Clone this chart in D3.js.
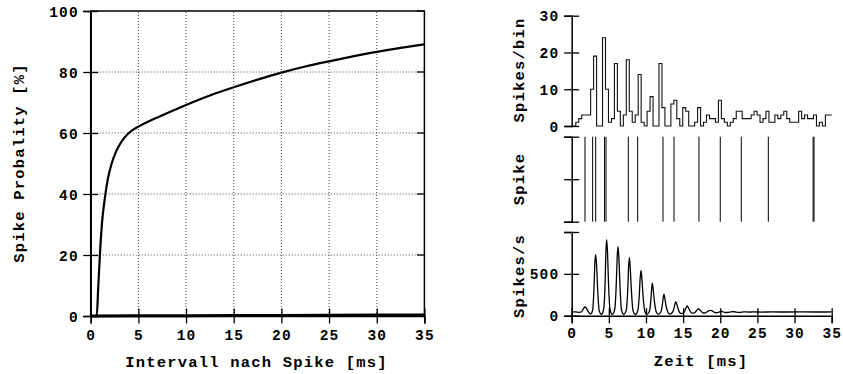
<!DOCTYPE html>
<html><head><meta charset="utf-8">
<script src="https://cdn.jsdelivr.net/npm/d3@7"></script>
<style>
body{margin:0;background:#fff;}
svg{display:block;}
text{font-family:"Liberation Mono","Courier New",monospace;font-weight:bold;fill:#000;}
</style></head><body>
<svg id="c" width="843" height="374"></svg>
<script>
// ---------- data ----------
// left panel: spike probability vs interval
const probX = [0, 0.63, 0.8, 1.0, 1.2, 1.5, 1.8, 2.2, 2.6, 3.0, 3.5, 4.0, 4.5, 5.0, 6.0, 7.0, 8.0, 10, 12.5, 15, 17.5, 20, 22.5, 25, 27.5, 30, 32.5, 35];
const probY = [0, 0, 10, 22, 31, 39, 45, 50, 53.5, 56, 58.3, 60, 61.2, 62.1, 63.7, 65.1, 66.5, 69.2, 72.3, 75.0, 77.5, 79.8, 81.8, 83.5, 85.1, 86.6, 87.9, 89.1];
const baseX = [0, 5, 10, 15, 20, 25, 30, 35];
const baseY = [0, 0.05, 0.1, 0.15, 0.2, 0.25, 0.3, 0.35];
const leftXTicks = [0, 5, 10, 15, 20, 25, 30, 35];
const leftYTicks = [0, 20, 40, 60, 80, 100];

// right top: histogram (spikes per 0.4 ms bin)
const binStart = 0.15;
const binWidth = 0.4;
const histValues = [0,1,2,3,3,3,10,19,0,0,
  24,10,1,2,17,4,0,3,18,4,
  1,3,14,1,0,4,8,0,0,17,
  5,0,0,6,7,2,0,5,4,0,
  0,1,5,0,1,3,2,2,1,7,
  2,1,0,1,2,4,4,2,2,2,
  3,4,3,1,2,4,1,1,3,2,
  3,4,2,1,1,1,4,2,3,2,
  2,3,0,1,0,3,3];
const histTicks = [0, 10, 20, 30];

// right middle: spike raster (ms)
const spikeTimes = [1.79, 2.82, 3.23, 4.42, 4.62, 7.62, 8.88, 12.29, 13.77, 17.13, 20.0, 22.83, 26.47, 32.5, 32.62];
const rasterTicks = [0, 1, 2];

// right bottom: firing rate (spikes/s)
const psthT = [0,0.5,1.0,1.3,1.6,1.8,2.0,2.3,2.5,2.8,3.0,3.1,3.23,3.35,3.5,3.7,4.0,4.3,4.5,4.6,4.71,4.82,4.95,5.15,5.45,5.8,6.0,6.12,6.23,6.35,6.5,6.7,7.0,7.35,7.55,7.66,7.76,7.88,8.05,8.25,8.55,8.9,9.1,9.22,9.33,9.45,9.62,9.85,10.1,10.45,10.65,10.76,10.85,10.96,11.15,11.4,11.65,12.0,12.2,12.32,12.42,12.53,12.72,13.0,13.25,13.6,13.8,13.92,14.0,14.1,14.3,14.55,14.8,15.15,15.35,15.48,15.56,15.65,15.85,16.1,16.4,16.7,16.9,17.09,17.25,17.45,17.7,18.0,18.3,18.5,18.7,18.9,19.2,19.5,19.8,20.1,20.3,20.6,21.0,21.4,21.7,22.1,22.6,23.2,23.8,24.5,25.5,27,29,31,33,35];
const psthV = [45,45,40,45,85,108,85,40,20,60,330,600,728,600,300,60,15,80,400,760,908,760,400,80,15,80,380,690,824,690,360,70,15,70,320,580,696,570,280,60,15,60,250,450,540,440,220,50,15,50,180,320,388,320,160,40,15,45,130,215,256,210,110,35,20,45,100,150,168,148,90,35,25,45,85,108,116,105,70,35,30,50,70,80,72,50,32,35,50,60,64,57,40,35,42,50,48,40,38,45,50,44,40,46,43,45,43,45,44,45,44,45];
const psthTicks = [0, 500, 1000];
const psthTickLabels = ["0", "500", ""];
const timeTicks = [0, 5, 10, 15, 20, 25, 30, 35];

// ---------- drawing ----------
const svg = d3.select("#c");
const TICK = 7.5;

function crossTicks(g, orient) {
  g.selectAll(".tick line").each(function() {
    const l = d3.select(this);
    if (orient === "left") l.attr("x1", TICK).attr("x2", -TICK);
    else l.attr("y1", -TICK).attr("y2", TICK);
  });
  g.selectAll(".tick line").attr("stroke", "#000").attr("stroke-width", 1.3);
  g.select(".domain").attr("stroke", "#000").attr("stroke-width", 1.5);
  g.selectAll("text").attr("font-size", 14.5).attr("letter-spacing", 1.1).attr("fill", "#000");
}

// ===== Left panel =====
const xL = d3.scaleLinear().domain([0, 35]).range([90.7, 424.4]);
const yL = d3.scaleLinear().domain([0, 100]).range([316, 11]);

// grid
const grid = svg.append("g");
grid.selectAll("line.gx").data(leftXTicks.filter(d => d > 0 && d < 35)).join("line")
  .attr("x1", d => xL(d)).attr("x2", d => xL(d)).attr("y1", yL(0)).attr("y2", yL(100))
  .attr("stroke", "#444").attr("stroke-width", 1).attr("stroke-dasharray", "1,2");
grid.selectAll("line.gy").data(leftYTicks.filter(d => d > 0 && d < 100)).join("line")
  .attr("x1", xL(0)).attr("x2", xL(35)).attr("y1", d => yL(d)).attr("y2", d => yL(d))
  .attr("stroke", "#444").attr("stroke-width", 1).attr("stroke-dasharray", "1,2");

// mirror ticks (right, inward)
svg.append("g").selectAll("line").data(leftYTicks).join("line")
  .attr("x1", xL(35) - TICK).attr("x2", xL(35)).attr("y1", d => yL(d)).attr("y2", d => yL(d))
  .attr("stroke", "#000").attr("stroke-width", 1.3);

const gxL = svg.append("g").attr("transform", `translate(0,${yL(0)})`)
  .call(d3.axisBottom(xL).tickValues(leftXTicks).tickFormat(d3.format("d")).tickSize(TICK).tickPadding(0));
crossTicks(gxL, "bottom");
gxL.selectAll("text").attr("dy", null).attr("y", 24);

const gyL = svg.append("g").attr("transform", `translate(${xL(0)},0)`)
  .call(d3.axisLeft(yL).tickValues(leftYTicks).tickFormat(d3.format("d")).tickSize(TICK).tickPadding(0));
crossTicks(gyL, "left");
gyL.selectAll("text").attr("x", -12).attr("dy", "0.35em");

// frame
svg.append("rect").attr("x", xL(0)).attr("y", yL(100)).attr("width", xL(35) - xL(0)).attr("height", yL(0) - yL(100))
  .attr("fill", "none").attr("stroke", "#000").attr("stroke-width", 1.5);

// curves
svg.append("path").datum(baseX.map((d, i) => [d, baseY[i]]))
  .attr("d", d3.line().x(d => xL(d[0])).y(d => yL(d[1])))
  .attr("fill", "none").attr("stroke", "#000").attr("stroke-width", 3);
svg.append("path").datum(probX.map((d, i) => [d, probY[i]]))
  .attr("d", d3.line().x(d => xL(d[0])).y(d => yL(d[1])).curve(d3.curveMonotoneX))
  .attr("fill", "none").attr("stroke", "#000").attr("stroke-width", 2.2);

// labels
svg.append("text").attr("x", 256.5).attr("y", 366.5).attr("text-anchor", "middle")
  .attr("font-size", 15.5).attr("letter-spacing", 1.2).text("Intervall nach Spike [ms]");
svg.append("text").attr("transform", "translate(24,163) rotate(-90)").attr("text-anchor", "middle")
  .attr("font-size", 15.5).attr("letter-spacing", 1.2).text("Spike Probality [%]");

// ===== Right panels =====
const xR = d3.scaleLinear().domain([0, 35]).range([571.7, 831.7]);

// Histogram
const yH = d3.scaleLinear().domain([0, 30]).range([126, 15.7]);
const gyH = svg.append("g").attr("transform", `translate(${xR(0)},0)`)
  .call(d3.axisLeft(yH).tickValues(histTicks).tickFormat(d3.format("d")).tickSize(TICK).tickPadding(0));
crossTicks(gyH, "left");
gyH.selectAll("text").attr("x", -12.5).attr("dy", "0.35em");

const histPts = [[0, 0]].concat(histValues.map((v, i) => [binStart + i * binWidth, v]));
histPts.push([35, histValues[histValues.length - 1]]);
svg.append("path").datum(histPts)
  .attr("d", d3.line().x(d => xR(d[0])).y(d => yH(d[1])).curve(d3.curveStepAfter))
  .attr("fill", "none").attr("stroke", "#111").attr("stroke-width", 1.1);

svg.append("text").attr("transform", "translate(524,70) rotate(-90)").attr("text-anchor", "middle")
  .attr("font-size", 15.5).attr("letter-spacing", 1.2).text("Spikes/bin");

// Raster
const yS = d3.scaleLinear().domain([0, 2]).range([221.7, 136.7]);
const gyS = svg.append("g").attr("transform", `translate(${xR(0)},0)`)
  .call(d3.axisLeft(yS).tickValues(rasterTicks).tickFormat("").tickSize(TICK));
crossTicks(gyS, "left");
svg.append("g").selectAll("line").data(spikeTimes).join("line")
  .attr("x1", d => xR(d)).attr("x2", d => xR(d)).attr("y1", yS(0)).attr("y2", yS(2))
  .attr("stroke", "#000").attr("stroke-width", 1);
svg.append("text").attr("transform", "translate(524,179) rotate(-90)").attr("text-anchor", "middle")
  .attr("font-size", 15.5).attr("letter-spacing", 1.2).text("Spike");

// PSTH
const yP = d3.scaleLinear().domain([0, 1000]).range([315.7, 232]);
const gyP = svg.append("g").attr("transform", `translate(${xR(0)},0)`)
  .call(d3.axisLeft(yP).tickValues(psthTicks).tickFormat((d, i) => psthTickLabels[i]).tickSize(TICK).tickPadding(0));
crossTicks(gyP, "left");
gyP.selectAll("text").attr("x", -12.5).attr("dy", "0.35em");

const gxP = svg.append("g").attr("transform", `translate(0,${yP(0)})`)
  .call(d3.axisBottom(xR).tickValues(timeTicks).tickFormat(d3.format("d")).tickSize(TICK).tickPadding(0));
crossTicks(gxP, "bottom");
gxP.selectAll("text").attr("dy", null).attr("y", 22.8);

svg.append("path").datum(psthT.map((d, i) => [d, psthV[i]]))
  .attr("d", d3.line().x(d => xR(d[0])).y(d => yP(d[1])).curve(d3.curveMonotoneX))
  .attr("fill", "none").attr("stroke", "#000").attr("stroke-width", 1.3);

svg.append("text").attr("transform", "translate(524,276) rotate(-90)").attr("text-anchor", "middle")
  .attr("font-size", 15.5).attr("letter-spacing", 1.2).text("Spikes/s");
svg.append("text").attr("x", 701).attr("y", 366).attr("text-anchor", "middle")
  .attr("font-size", 15.5).attr("letter-spacing", 1.2).text("Zeit [ms]");
</script>
</body></html>
